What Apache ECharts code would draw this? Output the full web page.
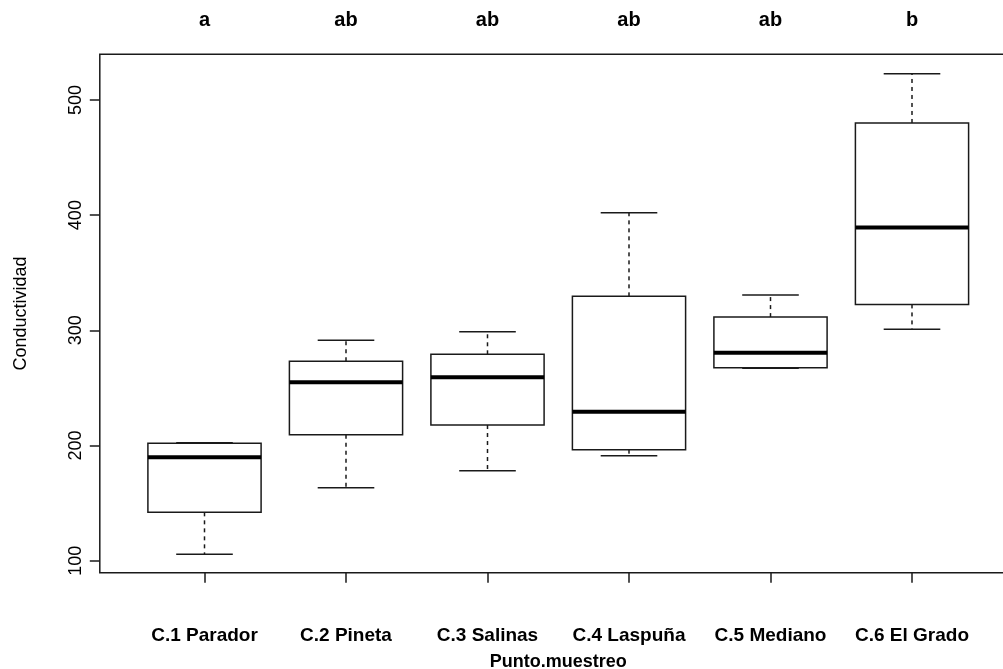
<!DOCTYPE html>
<html>
<head>
<meta charset="utf-8">
<script src="https://cdn.jsdelivr.net/npm/echarts@6/dist/echarts.min.js"></script>
<style>
  html, body { margin: 0; padding: 0; background: #fff; }
  #chart { width: 1003px; height: 669px; }
</style>
</head>
<body>
<div id="chart"></div>
<script>
var categories = ['C.1 Parador', 'C.2 Pineta', 'C.3 Salinas', 'C.4 Laspuña', 'C.5 Mediano', 'C.6 El Grado'];
var letters = ['a', 'ab', 'ab', 'ab', 'ab', 'b'];
var mins = [105.6, 163.4, 178.1, 191.1, 267.0, 301.0];
var q1s = [142.0, 209.4, 217.8, 196.4, 267.5, 322.5];
var medians = [189.8, 254.9, 259.2, 229.3, 280.6, 389.2];
var q3s = [201.9, 273.1, 279.2, 329.5, 311.5, 480.0];
var maxs = [202.4, 291.3, 298.8, 402.1, 330.6, 522.7];
var yTicks = [100, 200, 300, 400, 500];

var data = [];
for (var i = 0; i < categories.length; i++) {
  data.push([i, mins[i], q1s[i], medians[i], q3s[i], maxs[i]]);
}

var lineColor = '#1a1a1a';
var sans = "'Liberation Sans', Arial, sans-serif";

function renderBox(params, api) {
  var x = api.value(0);
  var band = api.size([1, 0])[0];
  var half = band * 0.4;
  var staple = band * 0.2;
  var pMin = api.coord([x, api.value(1)]);
  var pQ1 = api.coord([x, api.value(2)]);
  var pMed = api.coord([x, api.value(3)]);
  var pQ3 = api.coord([x, api.value(4)]);
  var pMax = api.coord([x, api.value(5)]);
  var cx = pMed[0];
  var dashed = { stroke: lineColor, lineWidth: 1.5, lineDash: [4, 4] };
  var solid = { stroke: lineColor, lineWidth: 1.5 };
  return {
    type: 'group',
    children: [
      { type: 'line', shape: { x1: cx, y1: pQ3[1], x2: cx, y2: pMax[1] }, style: dashed },
      { type: 'line', shape: { x1: cx, y1: pQ1[1], x2: cx, y2: pMin[1] }, style: dashed },
      { type: 'line', shape: { x1: cx - staple, y1: pMax[1], x2: cx + staple, y2: pMax[1] }, style: solid },
      { type: 'line', shape: { x1: cx - staple, y1: pMin[1], x2: cx + staple, y2: pMin[1] }, style: solid },
      { type: 'rect', shape: { x: cx - half, y: pQ3[1], width: half * 2, height: pQ1[1] - pQ3[1] },
        style: { fill: '#fff', stroke: lineColor, lineWidth: 1.5 } },
      { type: 'line', shape: { x1: cx - half, y1: pMed[1], x2: cx + half, y2: pMed[1] },
        style: { stroke: '#000', lineWidth: 4 } }
    ]
  };
}

var myChart = echarts.init(document.getElementById('chart'));
var option = {
  animation: false,
  backgroundColor: '#fff',
  grid: [
    { left: 133.75, right: 20.25, top: 54.2, bottom: 96.3, containLabel: false, outerBoundsMode: 'none' },
    // marco del grafico (como box() en R)
    { left: 99.8, right: -14, top: 54.2, bottom: 96.3, containLabel: false, outerBoundsMode: 'none',
      show: true, borderColor: lineColor, borderWidth: 1.5, backgroundColor: 'transparent' }
  ],
  xAxis: [
    {
      type: 'category',
      gridIndex: 0,
      data: categories,
      axisLine: { show: false },
      axisTick: { show: true, alignWithLabel: true, length: 10, lineStyle: { color: lineColor, width: 1.5 } },
      axisLabel: { interval: 0, margin: 54, color: '#000', fontFamily: sans, fontWeight: 'bold', fontSize: 19 },
      name: 'Punto.muestreo',
      nameLocation: 'middle',
      nameGap: 80,
      nameTextStyle: { color: '#000', fontFamily: sans, fontWeight: 'bold', fontSize: 18 }
    },
    {
      type: 'category',
      gridIndex: 0,
      position: 'top',
      data: letters,
      axisLine: { show: false },
      axisTick: { show: false },
      axisLabel: { interval: 0, margin: 24, color: '#000', fontFamily: sans, fontWeight: 'bold', fontSize: 20 }
    },
    { type: 'value', gridIndex: 1, show: false }
  ],
  yAxis: [
    {
      type: 'value',
      gridIndex: 0,
      min: 89.6,
      max: 539.7,
      offset: 33.95,
      splitLine: { show: false },
      axisLine: { show: false },
      axisTick: { show: true, length: 10, customValues: yTicks, lineStyle: { color: lineColor, width: 1.5 } },
      axisLabel: { rotate: 90, margin: 15, customValues: yTicks, color: '#000', fontFamily: sans, fontSize: 18 },
      name: 'Conductividad',
      nameLocation: 'middle',
      nameGap: 70,
      nameTextStyle: { color: '#000', fontFamily: sans, fontSize: 18 }
    },
    { type: 'value', gridIndex: 1, show: false }
  ],
  series: [
    {
      type: 'custom',
      xAxisIndex: 0,
      yAxisIndex: 0,
      renderItem: renderBox,
      encode: { x: 0, y: [1, 2, 3, 4, 5] },
      data: data
    }
  ]
};
myChart.setOption(option);
</script>
</body>
</html>
